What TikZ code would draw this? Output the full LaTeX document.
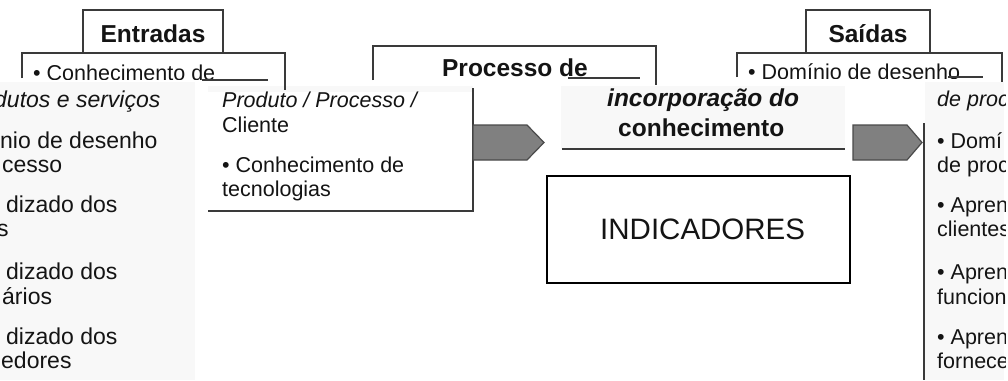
\documentclass[tikz,border=0pt]{standalone}
\usepackage{fontspec}
\setmainfont{Liberation Sans}
\definecolor{linec}{HTML}{3A3A3A}
\definecolor{arrowfill}{HTML}{808080}
\definecolor{arrowline}{HTML}{4A4A4A}
\definecolor{txtc}{HTML}{141414}
\definecolor{stripbg}{HTML}{F8F8F8}
\newcommand\bodyf{\fontsize{21.5}{25}\selectfont}
\newcommand\leftf{\fontsize{23}{26}\selectfont}
\newcommand\titlef{\fontsize{24.5}{28}\selectfont\bfseries}
\tikzset{
  boxline/.style={draw=linec, line width=1.2pt},
  txt/.style={inner sep=0pt, anchor=base west, text=txtc, font=\bodyf},
  itxt/.style={txt, font=\bodyf\itshape},
  ltxt/.style={txt, font=\leftf},
  litxt/.style={txt, font=\leftf\itshape},
  ttl/.style={inner sep=0pt, anchor=base, text=txtc, font=\titlef},
  blockarrow/.style={fill=arrowfill, draw=arrowline, line width=1.2pt},
}
\begin{document}
\begin{tikzpicture}[x=1pt,y=-1pt]
\useasboundingbox (0,0) rectangle (1008,380);
\fill[white] (0,0) rectangle (1008,380);

% ---- Entradas
\draw[boxline] (83,10) rectangle (223,53);
\node[ttl] (entradas) at (153,42) {Entradas};
\draw[boxline] (22,78) -- (22,53) -- (285,53) -- (285,90);
\begin{scope}
  \clip (22,54) rectangle (285,79);
  \node[txt] (conhecA) at (33,80) {• Conhecimento de};
\end{scope}
\draw[linec, line width=1.2pt] (202,80) -- (268,80);

% ---- Saidas
\draw[boxline] (806,10) rectangle (930,53);
\node[ttl] (saidas) at (868,42) {Saídas};
\draw[boxline] (737,77) -- (737,53) -- (1002,53) -- (1002,85);
\begin{scope}
  \clip (737,54) rectangle (1002,78);
  \node[txt] (dominioA) at (748,79) {• Domínio de desenho};
\end{scope}
\draw[linec, line width=1.2pt] (948,77) -- (983,77);

% ---- Processo de
\draw[boxline] (373,80) -- (373,46) -- (656,46) -- (656,85);
\begin{scope}
  \clip (374,47) rectangle (655,78);
  \node[ttl] (processo) at (515,76) {Processo de};
\end{scope}
\draw[linec, line width=1.2pt] (568,78) -- (640,78);

% ---- left strip
\fill[stripbg] (0,82) rectangle (195,380);
\node[litxt] (l1) at (-6,107) {dutos e serviços};
\node[ltxt] (l2) at (0,148) {nio de desenho};
\node[ltxt] (l3) at (2,172) {cesso};
\node[ltxt] (l4) at (6,212) {dizado dos};
\node[ltxt] (l5) at (-3,236) {s};
\node[ltxt] (l6) at (6,279) {dizado dos};
\node[ltxt] (l7) at (2,304) {ários};
\node[ltxt] (l8) at (6,344) {dizado dos};
\node[ltxt] (l9) at (1,368) {edores};

% ---- middle-left box
\fill[white] (208,86) rectangle (473,211);
\fill[stripbg] (208,86) rectangle (473,92);
\draw[boxline] (473,88) -- (473,211) -- (208,211);
\draw[boxline] (285,80) -- (285,90);
\node[itxt] (m1) at (222,107) {Produto / Processo /};
\node[txt] (m2) at (222,132) {Cliente};
\node[txt] (m3) at (222,172) {• Conhecimento de};
\node[txt] (m4) at (222,196) {tecnologias};

% ---- incorporacao strip
\fill[stripbg] (561,86) rectangle (845,149);
\draw[boxline] (562,149) -- (845,149);
\node[txt, font=\titlef\itshape] (inc1) at (607,106) {incorporação do};
\node[txt, font=\titlef] (inc2) at (618,136) {conhecimento};

% ---- INDICADORES
\draw[draw=black, line width=2pt] (547,176) rectangle (850,283);
\node[inner sep=0pt, anchor=base west, text=txtc, font=\fontsize{29.5}{32}\selectfont] (ind) at (600,239) {INDICADORES};

% ---- right strip
\fill[stripbg] (925,82) rectangle (1004,380);
\draw[boxline] (924,123) -- (924,380);
\begin{scope}
  \clip (925,82) rectangle (1005,380);
  \node[itxt] (r1) at (937,106) {de proc};
  \node[txt] (r2) at (937,148) {• Domí};
  \node[txt] (r3) at (937,172) {de proc};
  \node[txt] (r4) at (937,212) {• Apren};
  \node[txt] (r5) at (937,236) {clientes};
  \node[txt] (r6) at (937,279) {• Apren};
  \node[txt] (r7) at (937,304) {funcion};
  \node[txt] (r8) at (937,344) {• Apren};
  \node[txt] (r9) at (937,368) {fornece};
\end{scope}

% ---- block arrows
\draw[blockarrow] (473,125) -- (527,125) -- (544,142.5) -- (527,160) -- (473,160) -- cycle;
\draw[blockarrow] (853,125) -- (907,125) -- (922,142.5) -- (907,160) -- (853,160) -- cycle;
\end{tikzpicture}
\end{document}
